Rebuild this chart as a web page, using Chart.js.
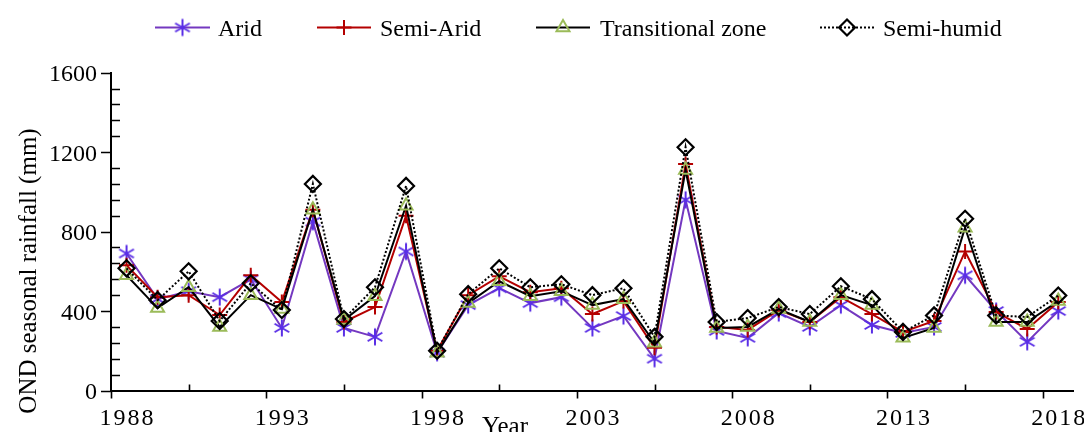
<!DOCTYPE html>
<html><head><meta charset="utf-8">
<script src="https://cdn.jsdelivr.net/npm/chart.js@4/dist/chart.umd.min.js"></script>
<style>html,body{margin:0;padding:0;background:#fff;overflow:hidden}</style>
</head><body>
<canvas id="c" width="1084" height="432" style="display:block;width:1084px;height:432px"></canvas>
<script>
const years = [1988,1989,1990,1991,1992,1993,1994,1995,1996,1997,1998,1999,2000,2001,2002,2003,2004,2005,2006,2007,2008,2009,2010,2011,2012,2013,2014,2015,2016,2017,2018];
const arid = [690,460,500,470,560,315,850,315,270,700,190,430,515,440,470,315,375,160,960,300,265,390,320,430,330,290,320,580,400,245,400];
const semiArid = [630,470,480,380,580,445,910,345,420,880,200,480,575,495,515,385,450,215,1140,320,305,405,345,470,385,295,350,700,395,310,445];
const transitional = [580,415,520,320,480,410,910,355,475,930,190,440,550,475,500,430,460,240,1110,315,320,410,345,480,430,265,315,820,345,345,450];
const semiHumid = [615,455,600,350,540,405,1040,360,520,1030,200,485,615,520,535,480,515,270,1225,345,365,420,385,525,460,295,378,865,378,370,478];
const seriesNames = ['Arid','Semi-Arid','Transitional zone','Semi-humid'];
const xTickLabels = [1988,1993,1998,2003,2008,2013,2018];
const yTickValues = [0,400,800,1200,1600];
const yTitle = 'OND seasonal rainfall (mm)';
const xTitle = 'Year';

const SERIF = '"Liberation Serif","Times New Roman",serif';
const pts = arr => years.map((yr, i) => ({x: yr, y: arr[i]}));

// six-armed asterisk marker (vertical + two diagonals)
function makeAsterisk(color) {
  const c = document.createElement('canvas');
  c.width = 20; c.height = 20;
  const g = c.getContext('2d');
  g.strokeStyle = color; g.lineWidth = 2; g.lineCap = 'butt';
  g.beginPath();
  [90, 30, 150].forEach(a => {
    const r = a * Math.PI / 180, dx = Math.cos(r) * 8.5, dy = Math.sin(r) * 8.5;
    g.moveTo(10 - dx, 10 - dy); g.lineTo(10 + dx, 10 + dy);
  });
  g.stroke();
  return c;
}
const starImg = makeAsterisk('#5A2EE6');

const datasets = [
  {label: seriesNames[0], data: pts(arid), borderColor: '#7438C0', borderWidth: 2,
   pointStyle: starImg, pointRadius: 8, pointBorderColor: '#5A2EE6', pointBorderWidth: 2,
   pointBackgroundColor: 'rgba(0,0,0,0)', order: 4},
  {label: seriesNames[1], data: pts(semiArid), borderColor: '#B40000', borderWidth: 2,
   pointStyle: 'cross', pointRadius: 7.5, pointBorderColor: '#B40000', pointBorderWidth: 2,
   pointBackgroundColor: 'rgba(0,0,0,0)', order: 3},
  {label: seriesNames[2], data: pts(transitional), borderColor: '#000000', borderWidth: 2,
   pointStyle: 'triangle', pointRadius: 7.5, pointBorderColor: '#9BBB59', pointBorderWidth: 2,
   pointBackgroundColor: 'rgba(0,0,0,0)', order: 2},
  {label: seriesNames[3], data: pts(semiHumid), borderColor: '#000000', borderWidth: 2, borderDash: [2,2],
   pointStyle: 'rectRot', pointRadius: 8, pointBorderColor: '#000000', pointBorderWidth: 2.2,
   pointBackgroundColor: 'rgba(0,0,0,0)', order: 1}
];

const legendPos = [
  {x0: 155, x1: 210, tx: 218},
  {x0: 317, x1: 371, tx: 380},
  {x0: 536, x1: 590, tx: 600},
  {x0: 820, x1: 874, tx: 883}
];

const deco = {
  id: 'deco',
  beforeDatasetsDraw(chart) {
    const ctx = chart.ctx, xs = chart.scales.x, ys = chart.scales.y;
    const bottom = chart.chartArea.bottom, left = chart.chartArea.left;
    ctx.save();
    ctx.strokeStyle = '#000'; ctx.lineWidth = 1.6;
    ctx.beginPath();
    for (let v = xs.min; v <= xs.max - 0.5; v += 5) {
      const p = Math.round(xs.getPixelForValue(v)) + 0.5;
      ctx.moveTo(p, bottom); ctx.lineTo(p, bottom + 8);
    }
    for (let v = xs.min + 2.5; v < xs.max; v += 5) {
      const p = Math.round(xs.getPixelForValue(v)) + 0.5;
      ctx.moveTo(p, bottom); ctx.lineTo(p, bottom - 6);
    }
    for (let v = ys.min; v <= ys.max; v += 80) {
      const p = Math.round(ys.getPixelForValue(v)) + 0.5;
      if (v % 400 === 0) { ctx.moveTo(left - 10, p); ctx.lineTo(left, p); }
      else { ctx.moveTo(left, p); ctx.lineTo(left + 9, p); }
    }
    ctx.stroke();
    ctx.restore();
  },
  afterDraw(chart) {
    const ctx = chart.ctx, xs = chart.scales.x, ys = chart.scales.y;
    const bottom = chart.chartArea.bottom, left = chart.chartArea.left;
    ctx.save();
    ctx.fillStyle = '#000';
    ctx.font = '24px ' + SERIF;
    ctx.textAlign = 'right'; ctx.textBaseline = 'alphabetic';
    yTickValues.forEach(v => ctx.fillText(String(v), left - 14, ys.getPixelForValue(v) + 8.5));
    ctx.textAlign = 'center';
    ctx.letterSpacing = '2px';
    xTickLabels.forEach(v => ctx.fillText(String(v), xs.getPixelForValue(v) + 1, bottom + 34));
    ctx.letterSpacing = '0px';
    ctx.font = '25px ' + SERIF;
    ctx.fillText(xTitle, 505, bottom + 43);
    ctx.save();
    ctx.translate(29, 271); ctx.rotate(-Math.PI / 2);
    ctx.textBaseline = 'middle';
    ctx.fillText(yTitle, 0, 0);
    ctx.restore();
    const ly = 27;
    ctx.font = '24px ' + SERIF;
    ctx.textAlign = 'left'; ctx.textBaseline = 'alphabetic';
    chart.data.datasets.forEach((ds, i) => {
      const lp = legendPos[i];
      ctx.save();
      ctx.strokeStyle = ds.borderColor; ctx.lineWidth = ds.borderWidth;
      ctx.setLineDash(ds.borderDash || []);
      ctx.beginPath(); ctx.moveTo(lp.x0, ly + 0.5); ctx.lineTo(lp.x1, ly + 0.5); ctx.stroke();
      ctx.setLineDash([]);
      ctx.strokeStyle = ds.pointBorderColor; ctx.fillStyle = 'rgba(0,0,0,0)';
      ctx.lineWidth = ds.pointBorderWidth;
      Chart.helpers.drawPoint(ctx, {pointStyle: ds.pointStyle, radius: ds.pointRadius, borderWidth: ds.pointBorderWidth, rotation: 0}, (lp.x0 + lp.x1) / 2, ly + 0.5);
      ctx.restore();
      ctx.fillText(ds.label, lp.tx, ly + 9);
    });
    ctx.restore();
  }
};

new Chart(document.getElementById('c'), {
  type: 'line',
  data: {datasets},
  options: {
    responsive: false, animation: false, devicePixelRatio: 1,
    layout: {padding: {top: 72.7, right: 9, left: 0, bottom: 0}},
    plugins: {legend: {display: false}, tooltip: {enabled: false}},
    elements: {line: {tension: 0}},
    scales: {
      x: {type: 'linear', min: 1987.5, max: 2018.5,
          afterFit: s => { s.height = 41.5; },
          ticks: {display: false}, grid: {display: false},
          border: {display: true, color: '#000', width: 2}},
      y: {min: 0, max: 1600,
          afterFit: s => { s.width = 111; },
          ticks: {display: false, stepSize: 400}, grid: {display: false},
          border: {display: true, color: '#000', width: 2}}
    }
  },
  plugins: [deco]
});
</script>
</body></html>
